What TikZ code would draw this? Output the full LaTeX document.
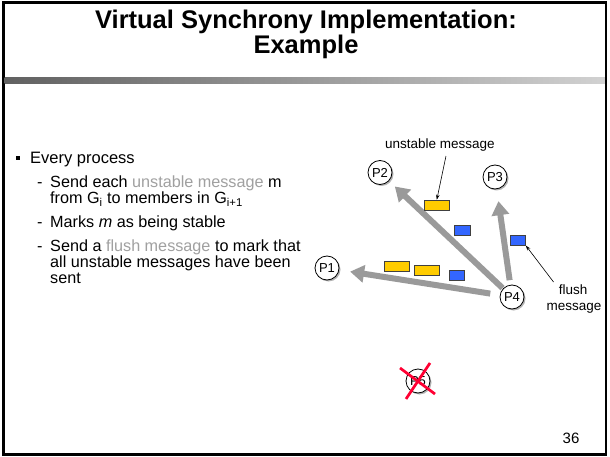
\documentclass[tikz,border=0pt]{standalone}
\usepackage{fontspec}
\setmainfont{Liberation Sans}
\usetikzlibrary{arrows.meta,shadows,calc}
\definecolor{msgyellow}{HTML}{FFCC00}
\definecolor{msgblue}{HTML}{3366FF}
\definecolor{bigarrow}{HTML}{9A9A9A}
\definecolor{crossred}{HTML}{FF0033}
\definecolor{softtext}{HTML}{A0A0A0}
\begin{document}
\begin{tikzpicture}[x=1pt,y=-1pt,
  proc/.style={circle,draw=black,line width=0.8pt,fill=white,minimum size=24pt,inner sep=0pt,
    font=\fontsize{13}{15}\selectfont,
    drop shadow={shadow xshift=1.5pt,shadow yshift=-1.5pt,opacity=0.3,fill=black}},
  ymsg/.style={draw=black!75,line width=0.6pt,fill=msgyellow,minimum width=25pt,minimum height=10pt,inner sep=0pt},
  bmsg/.style={draw=black!75,line width=0.6pt,fill=msgblue,minimum width=15.5pt,minimum height=10pt,inner sep=0pt},
  bigarr/.style={draw=bigarrow,line width=6pt,-{Triangle[length=14pt,width=17pt]}},
  thinarr/.style={draw=black,line width=0.6pt,-{Stealth[length=5pt,width=3.5pt]}},
  body/.style={anchor=base west,inner sep=0pt,font=\fontsize{16.2}{18}\selectfont},
  lbl/.style={anchor=base west,inner sep=0pt,font=\fontsize{13.5}{16}\selectfont},
  titletext/.style={anchor=base,inner sep=0pt,font=\fontsize{25.5}{28}\selectfont\bfseries}
]
\useasboundingbox (0,0) rectangle (610,457);
\fill[white] (0,0) rectangle (610,457);

% frame and title bar
\draw[line width=2.2pt] (3.5,2.5) rectangle (606,454.5);
\shade[left color=black!62,right color=black!18] (4.6,78) rectangle (604.9,84);
\node[titletext] (t1) at (306,29) {Virtual Synchrony Implementation:};
\node[titletext] (t2) at (306,54) {Example};

% bullet text
\node[fill=black,minimum size=3.6pt,inner sep=0pt] (bul) at (18,158) {};
\node[anchor=base west,inner sep=0pt,font=\fontsize{16.5}{19}\selectfont] (l0) at (30,164) {Every process};
\node[body] (d1) at (37,187.5) {-};
\node[body] (l1) at (50,187.5) {Send each {\color{softtext}unstable message} m};
\node[body] (l2) at (50,203.5) {from G\textsubscript{i} to members in G\textsubscript{i+1}};
\node[body] (d3) at (37,227.5) {-};
\node[body] (l3) at (50,227.5) {Marks \textit{m} as being stable};
\node[body] (d4) at (37,251.5) {-};
\node[body] (l4) at (50,251.5) {Send a {\color{softtext}flush message} to mark that};
\node[body] (l5) at (50,267.5) {all unstable messages have been};
\node[body] (l6) at (50,283.5) {sent};

% processes
\node[proc] (p2) at (380,172.5) {P2};
\node[proc] (p3) at (495,177) {P3};
\node[proc] (p1) at (327,268) {P1};

% big arrows from P4
\coordinate (p4c) at (512,297);
\draw[bigarr,shorten <=13pt,shorten >=8pt] (p4c) -- (p2);
\draw[bigarr,shorten <=17pt,shorten >=12pt] (p4c) -- (p3);
\draw[bigarr,shorten <=22pt,shorten >=11pt] (p4c) -- (p1);
\node[proc] (p4) at (p4c) {P4};

\node[proc] (p5) at (418,381) {P5};
\draw[crossred,line width=2.7pt] ($(p5)+(-18,-13)$) -- ($(p5)+(17,13)$);
\draw[crossred,line width=2.7pt] ($(p5)+(12,-18)$) -- ($(p5)+(-12,18)$);

% messages
\node[ymsg] (y1) at (436.8,205) {};
\node[ymsg] (y2) at (396.6,265.8) {};
\node[ymsg] (y3) at (426.6,270.5) {};
\node[bmsg] (b1) at (462.2,230.3) {};
\node[bmsg] (b3) at (456.9,275.5) {};
\node[bmsg] (bf) at (517.8,240.3) {};

% labels
\node[lbl] (ulbl) at (385,149) {unstable message};
\draw[thinarr] ([xshift=6pt,yshift=-4pt]ulbl.south) -- (y1.north);
\node[lbl,anchor=base] (fl1) at (573,294) {flush};
\node[lbl,anchor=base] (fl2) at (574,310) {message};
\draw[thinarr] ([xshift=-5pt,yshift=2pt]fl1.north west) -- (bf.south east);

\node[anchor=base,inner sep=0pt,font=\fontsize{15}{17}\selectfont] (pg) at (571,443) {36};
\end{tikzpicture}
\end{document}
